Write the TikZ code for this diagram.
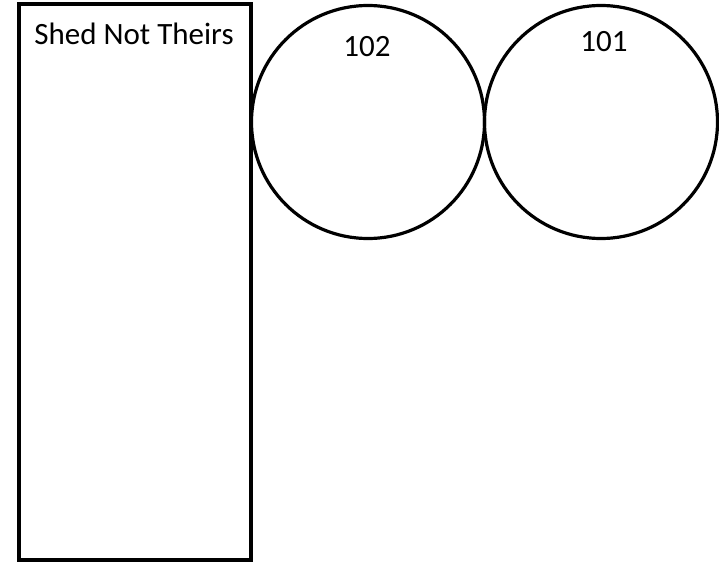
\documentclass[tikz,border=0pt]{standalone}
\usepackage{fontspec}
\setmainfont{Carlito}
\usetikzlibrary{positioning}

\begin{document}
\begin{tikzpicture}[
  x=0.5pt, y=-0.5pt,
  shedbox/.style={rectangle, draw, line width=1.6pt, outer sep=0pt,
                  minimum width=116pt, minimum height=278pt},
  bed/.style={circle, draw, line width=1.6pt, outer sep=0pt,
              inner sep=0pt, minimum size=116.5pt},
  lbl/.style={font=\fontsize{15.5}{18}\selectfont, inner sep=0pt, anchor=base}
]
  \useasboundingbox (0,0) rectangle (719,562);

  % Shed (left)
  \node[shedbox] (shed) at (135,282) {};
  \node[lbl] (tshed) at (134,45) {Shed Not Theirs};

  % Round beds (top right)
  \node[bed] (c102) at (368,122) {};
  \node[bed, right=0pt of c102] (c101) {};
  \node[lbl] (t102) at (367,56) {102};
  \node[lbl] (t101) at (604,52) {101};
\end{tikzpicture}
\end{document}
